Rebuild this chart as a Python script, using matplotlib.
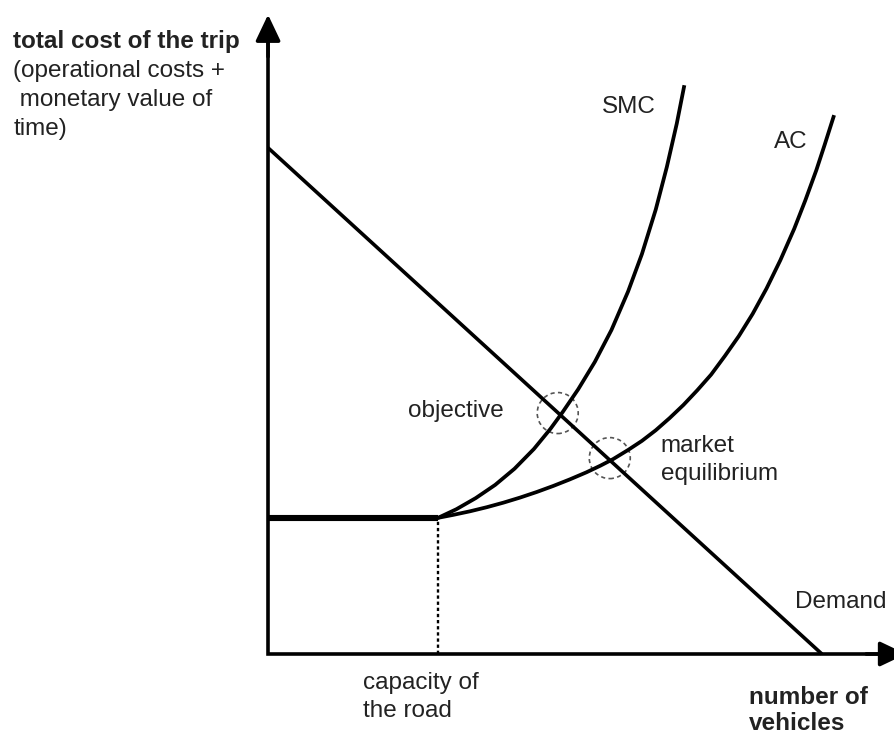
import matplotlib
matplotlib.use("Agg")
import matplotlib.pyplot as plt
from matplotlib.patches import Ellipse

plt.rcParams['font.family'] = ['Liberation Sans', 'DejaVu Sans']

# values (vehicles, cost), arbitrary units
capacity = 30.7
free_flow_cost = 26.9

demand_x = [0, 100]
demand_y = [100, 0]

smc_x = [30.7, 34.0, 37.5, 41.0, 44.5, 48.0, 51.0, 53.2, 56.0, 59.0, 62.0, 65.0,
         67.5, 70.0, 72.0, 73.8, 75.1]
smc_y = [26.9, 28.6, 30.8, 33.4, 36.6, 40.5, 44.5, 47.8, 52.3, 57.7, 64.0, 71.6,
         79.0, 87.8, 96.2, 104.8, 112.0]

ac_x = [30.7, 33.5, 36.5, 39.5, 42.5, 45.5, 48.5, 51.5, 54.5, 57.5, 60.0, 62.3, 65.0,
        67.5, 70.0, 72.5, 75.0, 77.5, 80.0, 82.5, 85.0, 87.5, 90.0, 92.5, 95.0, 97.0,
        99.0, 100.5, 102.1]
ac_y = [26.9, 27.5, 28.2, 29.0, 29.9, 30.9, 32.0, 33.2, 34.5, 35.9, 37.2, 38.5, 40.3,
        42.1, 44.2, 46.6, 49.2, 52.1, 55.2, 58.9, 62.8, 67.2, 72.2, 77.8, 84.0, 89.6,
        95.6, 100.6, 106.1]

objective_pt = (52.3, 47.6)
equilibrium_pt = (61.7, 38.7)

fig = plt.figure(figsize=(8.95, 7.36), dpi=100)
ax = fig.add_axes([0, 0, 1, 1])
ax.set_xlim(-48.4, 113.2)
ax.set_ylim(-16.2, 129.2)
ax.axis('off')

# axes with arrow heads
ax.plot([0, 0, 112], [122, 0, 0], color='black', lw=2.6, solid_joinstyle='miter',
        solid_capstyle='butt')
arrow = dict(arrowstyle='-|>,head_length=0.8,head_width=0.38', lw=2.6, color='black',
             mutation_scale=20, shrinkA=0, shrinkB=0)
ax.annotate('', xy=(0, 126.3), xytext=(0, 118), arrowprops=arrow, annotation_clip=False)
ax.annotate('', xy=(115.2, 0), xytext=(108, 0), arrowprops=arrow, annotation_clip=False)

# curves
ax.plot(demand_x, demand_y, color='black', lw=2.6, solid_capstyle='butt')
ax.plot([0, capacity], [free_flow_cost, free_flow_cost], color='black', lw=4.4,
        solid_capstyle='butt')
ax.plot(smc_x, smc_y, color='black', lw=2.7, solid_joinstyle='round')
ax.plot(ac_x, ac_y, color='black', lw=2.7, solid_joinstyle='round')
ax.plot([capacity, capacity], [0, free_flow_cost], color='black', lw=1.7,
        ls=(0, (1.4, 1.2)))

for c in (objective_pt, equilibrium_pt):
    ax.add_patch(Ellipse(c, width=7.4, height=8.1, fill=False, edgecolor='#555555',
                         lw=1.2, ls=(0, (2.5, 2.0))))

txt = dict(fontsize=17.5, color='#222222', va='baseline', ha='left')
ax.text(-46.0, 119.8, 'total cost of the trip', fontweight='bold', **txt)
ax.text(-46.0, 114.0, '(operational costs +', **txt)
ax.text(-46.0, 108.3, ' monetary value of', **txt)
ax.text(-46.0, 102.6, 'time)', **txt)

ax.text(60.3, 106.9, 'SMC', **txt)
ax.text(91.3, 100.0, 'AC', **txt)
ax.text(25.3, 46.8, 'objective', **txt)
ax.text(70.9, 39.9, 'market', **txt)
ax.text(70.9, 34.4, 'equilibrium', **txt)
ax.text(95.1, 9.0, 'Demand', **txt)
ax.text(17.1, -6.9, 'capacity of', **txt)
ax.text(17.1, -12.5, 'the road', **txt)
ax.text(86.8, -9.8, 'number of', fontweight='bold', **txt)
ax.text(86.8, -15.1, 'vehicles', fontweight='bold', **txt)

fig.savefig('out.png', dpi=100)
